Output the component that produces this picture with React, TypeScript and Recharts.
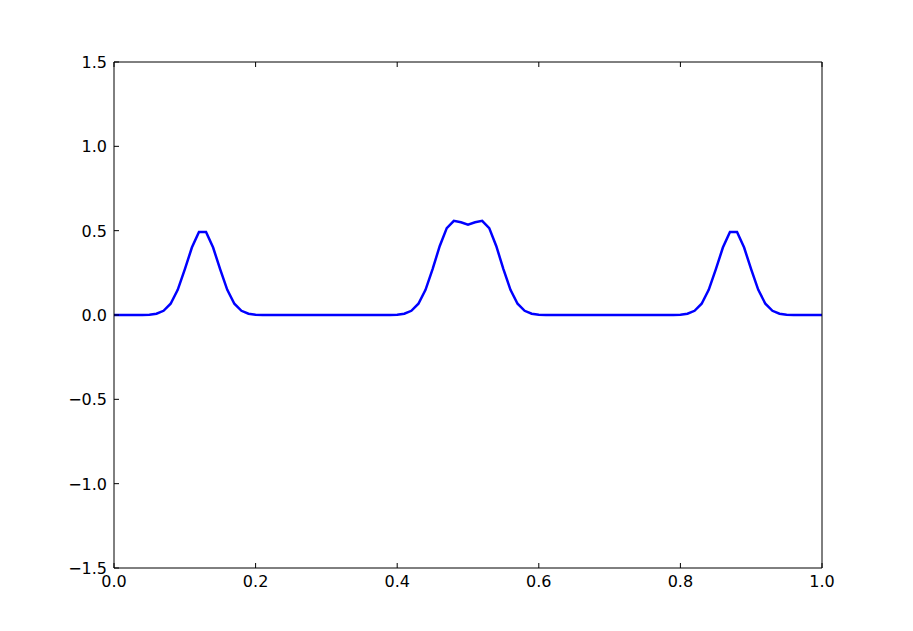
import { LineChart, Line, XAxis, YAxis } from "recharts";

// sample positions along x (step 0.01)
const xs = [
  0, 0.01, 0.02, 0.03, 0.04, 0.05, 0.06, 0.07, 0.08, 0.09,
  0.1, 0.11, 0.12, 0.13, 0.14, 0.15, 0.16, 0.17, 0.18, 0.19,
  0.2, 0.21, 0.22, 0.23, 0.24, 0.25, 0.26, 0.27, 0.28, 0.29,
  0.3, 0.31, 0.32, 0.33, 0.34, 0.35, 0.36, 0.37, 0.38, 0.39,
  0.4, 0.41, 0.42, 0.43, 0.44, 0.45, 0.46, 0.47, 0.48, 0.49,
  0.5, 0.51, 0.52, 0.53, 0.54, 0.55, 0.56, 0.57, 0.58, 0.59,
  0.6, 0.61, 0.62, 0.63, 0.64, 0.65, 0.66, 0.67, 0.68, 0.69,
  0.7, 0.71, 0.72, 0.73, 0.74, 0.75, 0.76, 0.77, 0.78, 0.79,
  0.8, 0.81, 0.82, 0.83, 0.84, 0.85, 0.86, 0.87, 0.88, 0.89,
  0.9, 0.91, 0.92, 0.93, 0.94, 0.95, 0.96, 0.97, 0.98, 0.99,
  1.0,
];

// curve values
const ys = [
  0, 0, 0, 0.0001, 0.0004, 0.002, 0.0075, 0.025, 0.067, 0.149,
  0.27, 0.4, 0.492, 0.492, 0.4, 0.27, 0.149, 0.067, 0.025, 0.0075,
  0.002, 0.0004, 0.0001, 0, 0, 0, 0, 0, 0, 0,
  0, 0, 0, 0, 0, 0, 0, 0, 0.0001, 0.0004,
  0.002, 0.0075, 0.025, 0.067, 0.149, 0.272, 0.408, 0.515, 0.558, 0.55,
  0.536, 0.55, 0.558, 0.515, 0.408, 0.272, 0.149, 0.067, 0.025, 0.0075,
  0.002, 0.0004, 0.0001, 0, 0, 0, 0, 0, 0, 0,
  0, 0, 0, 0, 0, 0, 0, 0, 0.0001, 0.0004,
  0.002, 0.0075, 0.025, 0.067, 0.149, 0.27, 0.4, 0.492, 0.492, 0.4,
  0.27, 0.149, 0.067, 0.025, 0.0075, 0.002, 0.0004, 0.0001, 0, 0,
  0,
];

const xTicks = [0, 0.2, 0.4, 0.6, 0.8, 1.0];
const yTicks = [-1.5, -1.0, -0.5, 0, 0.5, 1.0, 1.5];

const data = xs.map((x, i) => ({ x, y: ys[i] }));

const FONT = "DejaVu Sans";
const fmt = (v: number) => v.toFixed(1).replace("-", "\u2212");

const BottomTick = (props: any) => {
  const { x, y, payload } = props;
  return (
    <g>
      <line x1={x} x2={x} y1={y} y2={y - 5} stroke="#000" />
      <text x={x} y={y + 19} textAnchor="middle" fontFamily={FONT} fontSize={16} fill="#000">
        {fmt(payload.value)}
      </text>
    </g>
  );
};

const TopTick = (props: any) => {
  const { x, y } = props;
  return <line x1={x} x2={x} y1={y} y2={y + 5} stroke="#000" />;
};

const LeftTick = (props: any) => {
  const { x, y, payload } = props;
  return (
    <g>
      <line x1={x} x2={x + 5} y1={y} y2={y} stroke="#000" />
      <text x={x - 7} y={y + 6} textAnchor="end" fontFamily={FONT} fontSize={16} fill="#000">
        {fmt(payload.value)}
      </text>
    </g>
  );
};

const RightTick = (props: any) => {
  const { x, y } = props;
  return <line x1={x} x2={x - 5} y1={y} y2={y} stroke="#000" />;
};

export default function App() {
  return (
    <div style={{ position: "absolute", left: 0, top: 0, background: "#fff" }}>
      <LineChart
        width={913}
        height={631}
        data={data}
        margin={{ top: 52, right: 81, bottom: 33, left: 54 }}
      >
        <XAxis
          dataKey="x"
          type="number"
          domain={[0, 1]}
          ticks={xTicks}
          height={30}
          tickSize={0}
          tickMargin={0}
          tickLine={false}
          axisLine={{ stroke: "#000" }}
          tick={<BottomTick />}
          interval={0}
        />
        <XAxis
          xAxisId="top"
          orientation="top"
          dataKey="x"
          type="number"
          domain={[0, 1]}
          ticks={xTicks}
          height={10}
          tickSize={0}
          tickMargin={0}
          tickLine={false}
          axisLine={{ stroke: "#000" }}
          tick={<TopTick />}
          interval={0}
        />
        <YAxis
          type="number"
          domain={[-1.5, 1.5]}
          ticks={yTicks}
          width={60}
          tickSize={0}
          tickMargin={0}
          tickLine={false}
          axisLine={{ stroke: "#000" }}
          tick={<LeftTick />}
          interval={0}
        />
        <YAxis
          yAxisId="right"
          orientation="right"
          type="number"
          domain={[-1.5, 1.5]}
          ticks={yTicks}
          width={10}
          tickSize={0}
          tickMargin={0}
          tickLine={false}
          axisLine={{ stroke: "#000" }}
          tick={<RightTick />}
          interval={0}
        />
        <Line
          dataKey="y"
          type="linear"
          stroke="#0000ff"
          strokeWidth={2.5}
          dot={false}
          isAnimationActive={false}
        />
      </LineChart>
    </div>
  );
}
